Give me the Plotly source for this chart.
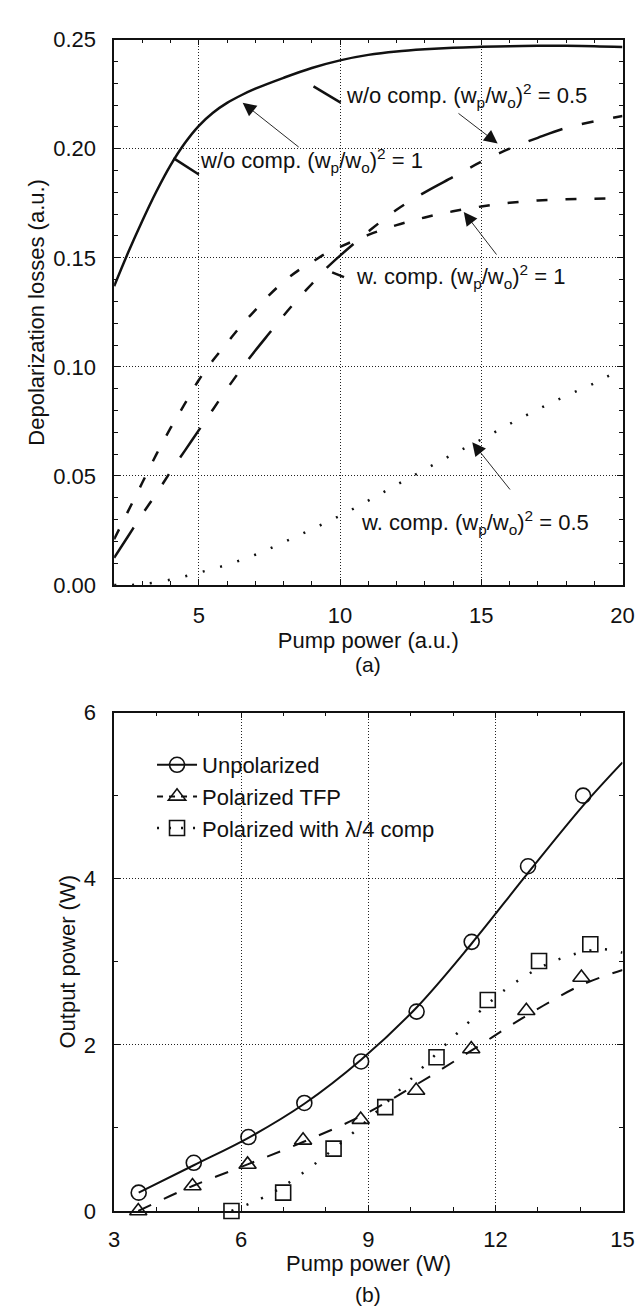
import plotly.graph_objects as go

# ---------------- (a) Depolarization losses ----------------
pump_a = [2.0, 2.5, 3.0, 3.5, 4.0, 4.5, 5.0, 5.5, 6.0, 6.5, 7.0, 8.0, 9.0, 10.0,
          11.0, 12.0, 13.0, 14.0, 15.0, 16.0, 17.0, 18.0, 19.0, 20.0]
wo_comp_1 = [0.137, 0.1525, 0.167, 0.1805, 0.1925, 0.2025, 0.2105, 0.2165, 0.221, 0.2245,
             0.2275, 0.2325, 0.237, 0.2405, 0.2430, 0.2446, 0.2456, 0.2463, 0.2467,
             0.2470, 0.2472, 0.2472, 0.2470, 0.2466]

pump_b = [2.0, 2.5, 3.0, 3.5, 4.0, 4.5, 5.0, 5.5, 6.0, 6.5, 7.0, 7.5, 8.0, 8.5, 9.0,
          9.5, 10.0, 11.0, 12.0, 13.0, 14.0, 15.0, 16.0, 17.0, 18.0, 19.0, 20.0]
wo_comp_05 = [0.0125, 0.0225, 0.0325, 0.042, 0.052, 0.0615, 0.071, 0.0805, 0.090,
              0.099, 0.1075, 0.1155, 0.1235, 0.131, 0.138, 0.145, 0.151, 0.162,
              0.172, 0.180, 0.187, 0.194, 0.200, 0.205, 0.2095, 0.2125, 0.215]
w_comp_1 = [0.021, 0.034, 0.047, 0.060, 0.072, 0.083, 0.094, 0.103, 0.111, 0.119,
            0.126, 0.133, 0.139, 0.144, 0.148, 0.152, 0.155, 0.1605, 0.165, 0.1685,
            0.1713, 0.1735, 0.1752, 0.1763, 0.1768, 0.1771, 0.1773]

pump_c = [2.0, 2.4, 3.0, 4.0, 5.0, 6.0, 7.0, 8.0, 9.0, 10.0, 11.0, 12.0, 13.0, 14.0,
          15.0, 16.0, 17.0, 18.0, 19.0, 20.0]
w_comp_05 = [0.0, 0.0, 0.0004, 0.0025, 0.0057, 0.0093, 0.0139, 0.0196, 0.0256, 0.0318,
             0.0387, 0.0459, 0.053, 0.060, 0.0667, 0.0738, 0.0805, 0.0867, 0.0925, 0.0993]

# ---------------- (b) Output power ----------------
pump_unpol = [3.58, 4.88, 6.17, 7.49, 8.83, 10.14, 11.44, 12.77, 14.07]
out_unpol = [0.22, 0.58, 0.89, 1.30, 1.80, 2.40, 3.24, 4.15, 5.0]
pump_tfp = [3.57, 4.85, 6.15, 7.46, 8.82, 10.13, 11.43, 12.73, 14.03]
out_tfp = [0.0, 0.30, 0.56, 0.85, 1.10, 1.45, 1.95, 2.41, 2.81]
pump_qw = [5.77, 6.99, 8.18, 9.40, 10.61, 11.82, 13.03, 14.24]
out_qw = [0.0, 0.22, 0.75, 1.25, 1.85, 2.54, 3.01, 3.21]

fit_unpol_x = [3.58, 4.88, 6.17, 7.49, 8.83, 10.14, 11.44, 12.77, 14.07, 15.0]
fit_unpol_y = [0.22, 0.55, 0.88, 1.29, 1.82, 2.45, 3.22, 4.07, 4.88, 5.40]
fit_tfp_x = [3.57, 4.85, 6.15, 7.46, 8.82, 10.13, 11.43, 12.73, 14.03, 15.0]
fit_tfp_y = [0.0, 0.30, 0.56, 0.83, 1.14, 1.52, 1.93, 2.35, 2.72, 2.90]
fit_qw_x = [5.77, 6.63, 7.38, 8.50, 9.25, 9.99, 11.08, 12.22, 13.35, 14.46, 15.0]
fit_qw_y = [0.0, 0.19, 0.43, 0.88, 1.22, 1.58, 2.13, 2.66, 3.00, 3.15, 3.11]

FONT = "Liberation Sans, Arial, Helvetica, sans-serif"
FS = 22
FS_CAP = 21
BLACK = "#111111"

fig = go.Figure()

# (a) curves
fig.add_trace(go.Scatter(x=pump_a, y=wo_comp_1, mode="lines", line_shape="spline",
                         line=dict(color=BLACK, width=2.5), showlegend=False,
                         xaxis="x", yaxis="y"))
fig.add_trace(go.Scatter(x=pump_b, y=wo_comp_05, mode="lines", line_shape="spline",
                         line=dict(color=BLACK, width=2.5,
                                   dash="36px,20px,12px,20px,12px,20px"),
                         showlegend=False, xaxis="x", yaxis="y"))
fig.add_trace(go.Scatter(x=pump_b, y=w_comp_1, mode="lines", line_shape="spline",
                         line=dict(color=BLACK, width=2.5, dash="11px,18px"),
                         showlegend=False, xaxis="x", yaxis="y"))
fig.add_trace(go.Scatter(x=pump_c, y=w_comp_05, mode="lines", line_shape="spline",
                         line=dict(color=BLACK, width=2.5, dash="2px,16px"),
                         showlegend=False, xaxis="x", yaxis="y"))

# (b) fitted curves
fig.add_trace(go.Scatter(x=fit_unpol_x, y=fit_unpol_y, mode="lines", line_shape="spline",
                         line=dict(color=BLACK, width=2), showlegend=False,
                         xaxis="x2", yaxis="y2"))
fig.add_trace(go.Scatter(x=fit_tfp_x, y=fit_tfp_y, mode="lines", line_shape="spline",
                         line=dict(color=BLACK, width=2, dash="14px,14px"),
                         showlegend=False, xaxis="x2", yaxis="y2"))
fig.add_trace(go.Scatter(x=fit_qw_x, y=fit_qw_y, mode="lines", line_shape="spline",
                         line=dict(color=BLACK, width=2.5, dash="2px,14px"),
                         showlegend=False, xaxis="x2", yaxis="y2"))


def mk(symbol):
    return dict(color=BLACK, symbol=symbol, size=15, line=dict(color=BLACK, width=1.6))


# (b) measured points
fig.add_trace(go.Scatter(x=pump_unpol, y=out_unpol, mode="markers",
                         marker=mk("circle-open"), showlegend=False,
                         cliponaxis=False, xaxis="x2", yaxis="y2"))
fig.add_trace(go.Scatter(x=pump_tfp, y=out_tfp, mode="markers",
                         marker=mk("triangle-up-open"), showlegend=False,
                         cliponaxis=False, xaxis="x2", yaxis="y2"))
fig.add_trace(go.Scatter(x=pump_qw, y=out_qw, mode="markers",
                         marker=mk("square-open"), showlegend=False,
                         cliponaxis=False, xaxis="x2", yaxis="y2"))

# legend entries
fig.add_trace(go.Scatter(x=[None], y=[None], mode="lines+markers", name="Unpolarized",
                         line=dict(color=BLACK, width=2),
                         marker=mk("circle-open"), xaxis="x2", yaxis="y2"))
fig.add_trace(go.Scatter(x=[None], y=[None], mode="lines+markers", name="Polarized TFP",
                         line=dict(color=BLACK, width=2, dash="6px,6px"),
                         marker=mk("triangle-up-open"), xaxis="x2", yaxis="y2"))
fig.add_trace(go.Scatter(x=[None], y=[None], mode="lines+markers",
                         name="Polarized with λ/4 comp",
                         line=dict(color=BLACK, width=2.5, dash="2px,10px"),
                         marker=mk("square-open"), xaxis="x2", yaxis="y2"))

W, H = 644, 1316
x_dom = [103 / W, 626 / W]
axis_common = dict(
    showline=True, linecolor=BLACK, linewidth=1.5, mirror="allticks",
    ticks="inside", ticklen=6, tickwidth=1.2, tickcolor=BLACK,
    showgrid=True, gridcolor="#222222", gridwidth=1, griddash="1px,2px",
    zeroline=False, tickfont=dict(family=FONT, size=FS, color=BLACK),
    title_font=dict(family=FONT, size=FS, color=BLACK),
)
minor_common = dict(ticks="inside", ticklen=4, tickcolor=BLACK, showgrid=False)

fig.update_layout(
    width=W, height=H, margin=dict(l=0, r=0, t=0, b=0),
    paper_bgcolor="white", plot_bgcolor="white",
    font=dict(family=FONT, size=FS, color=BLACK),
    xaxis=dict(axis_common, domain=x_dom, range=[2, 20], tickvals=[5, 10, 15, 20],
               ticklabelstandoff=10,
               minor=dict(minor_common, dtick=1, tick0=0),
               title=dict(text="Pump power (a.u.)", standoff=0), anchor="y"),
    yaxis=dict(axis_common, domain=[1 - 576 / H, 1 - 20 / H], range=[0, 0.25],
               tickvals=[0, 0.05, 0.10, 0.15, 0.20, 0.25], tickformat=".2f",
               ticklabelstandoff=12,
               minor=dict(minor_common, dtick=0.01, tick0=0),
               title=dict(text="Depolarization losses (a.u.)", standoff=2), anchor="x"),
    xaxis2=dict(axis_common, domain=x_dom, range=[3, 15], tickvals=[3, 6, 9, 12, 15],
                ticklabelstandoff=8,
                minor=dict(minor_common, dtick=1, tick0=0), anchor="y2"),
    yaxis2=dict(axis_common, domain=[1 - 1214 / H, 1 - 706 / H], range=[0, 6],
                tickvals=[0, 2, 4, 6], ticklabelstandoff=12,
                minor=dict(minor_common, dtick=1, tick0=0),
                title=dict(text="Output power (W)", standoff=2), anchor="x2"),
    legend=dict(x=142 / W, y=1 - 738 / H, xanchor="left", yanchor="top",
                bgcolor="rgba(0,0,0,0)", font=dict(family=FONT, size=FS, color=BLACK),
                itemwidth=40),
)

# text labels in (a)
labels = [
    ("w/o comp. (w<sub>p</sub>/w<sub>o</sub>)<sup>2</sup> = 0.5", 10.14, 0.2245),
    ("w/o comp. (w<sub>p</sub>/w<sub>o</sub>)<sup>2</sup> = 1", 4.98, 0.1945),
    ("w. comp. (w<sub>p</sub>/w<sub>o</sub>)<sup>2</sup> = 1", 10.5, 0.1416),
    ("w. comp. (w<sub>p</sub>/w<sub>o</sub>)<sup>2</sup> = 0.5", 10.68, 0.0285),
]
for txt, lx, ly in labels:
    fig.add_annotation(x=lx, y=ly, xref="x", yref="y", text=txt, showarrow=False,
                       xanchor="left", yanchor="middle",
                       font=dict(family=FONT, size=FS, color=BLACK))

# arrows in (a): (head_x, head_y, tail_x, tail_y)
arrows = [
    (15.58, 0.2024, 14.14, 0.2167),
    (6.55, 0.2211, 8.59, 0.2002),
    (14.38, 0.171, 15.58, 0.1508),
    (14.68, 0.0655, 16.06, 0.0431),
]
for hx, hy, tx, ty in arrows:
    fig.add_annotation(x=hx, y=hy, ax=tx, ay=ty, xref="x", yref="y", axref="x", ayref="y",
                       text="", showarrow=True, arrowhead=2, arrowsize=3, arrowwidth=0.9,
                       arrowcolor=BLACK, standoff=0)

# short line-style marks next to the labels
marks = [
    (9.06, 0.2286, 10.02, 0.2211),
    (4.10, 0.1957, 5.0, 0.1882),
    (9.72, 0.1433, 10.14, 0.1411),
]
for x0, y0, x1, y1 in marks:
    fig.add_shape(type="line", x0=x0, y0=y0, x1=x1, y1=y1, xref="x", yref="y",
                  line=dict(color=BLACK, width=2.5))

# bottom x-axis title and panel captions
fig.add_annotation(x=364.5 / W, y=1 - 1268 / H, xref="paper", yref="paper",
                   text="Pump power (W)", showarrow=False, yanchor="middle",
                   font=dict(family=FONT, size=FS, color=BLACK))
fig.add_annotation(x=364.5 / W, y=1 - 657 / H, xref="paper", yref="paper", text="(a)",
                   showarrow=False, yanchor="middle",
                   font=dict(family=FONT, size=FS_CAP, color=BLACK))
fig.add_annotation(x=364.5 / W, y=1 - 1299 / H, xref="paper", yref="paper", text="(b)",
                   showarrow=False, yanchor="middle",
                   font=dict(family=FONT, size=FS_CAP, color=BLACK))

fig.write_html("out.html")
